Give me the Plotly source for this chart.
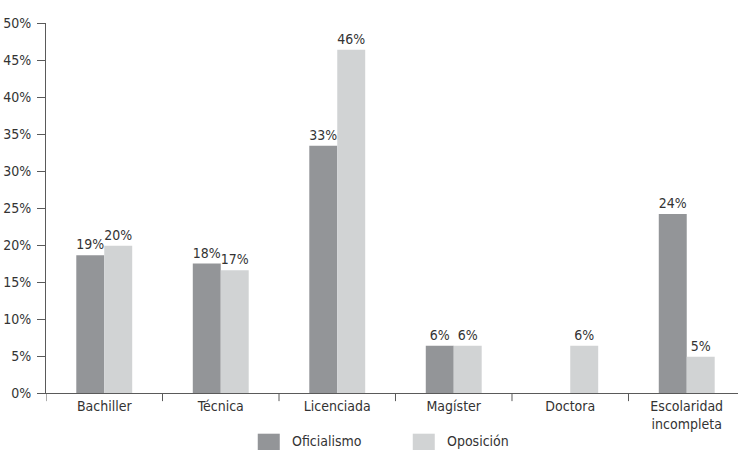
import plotly.graph_objects as go

# Nivel educativo por bloque político (porcentaje)
categorias = ["Bachiller", "Técnica", "Licenciada", "Magíster", "Doctora", "Escolaridad<br>incompleta"]
oficialismo = [18.6, 17.5, 33.4, 6.4, 0, 24.2]
oposicion = [19.9, 16.6, 46.4, 6.4, 6.4, 4.9]

series = ["Oficialismo", "Oposición"]
colores = ["#939598", "#d1d3d4"]

FONT = "DejaVu Sans Condensed, Liberation Sans Narrow, sans-serif"
TEXT = "#333333"
AXIS = "#5a5a5a"


def etiquetas(vals):
    return [f"{round(v)}%" if v > 0 else "" for v in vals]


fig = go.Figure()
for nombre, vals, color in zip(series, [oficialismo, oposicion], colores):
    fig.add_trace(go.Bar(
        x=list(range(len(categorias))),
        y=vals,
        name=nombre,
        marker=dict(color=color, line=dict(width=0)),
        text=etiquetas(vals),
        textposition="outside",
        textfont=dict(family=FONT, size=14, color=TEXT),
        cliponaxis=False,
        showlegend=False,
    ))

fig.update_layout(
    width=738, height=450,
    margin=dict(l=46, r=0, t=23, b=57),
    paper_bgcolor="white", plot_bgcolor="white",
    barmode="group", bargap=0.52, bargroupgap=0,
    font=dict(family=FONT, size=14, color=TEXT),
    xaxis=dict(
        tickmode="array",
        tickvals=list(range(len(categorias))),
        ticktext=categorias,
        range=[-0.5, 5.44],
        showline=True, linecolor=AXIS, linewidth=1,
        ticks="", showgrid=False, zeroline=False,
        tickfont=dict(family=FONT, size=14, color=TEXT),
    ),
    yaxis=dict(
        range=[0, 50], dtick=5,
        ticksuffix="%",
        showline=True, linecolor=AXIS, linewidth=1,
        ticks="outside", ticklen=8, tickcolor=AXIS,
        ticklabelstandoff=3,
        showgrid=False, zeroline=False,
        tickfont=dict(family=FONT, size=14, color=TEXT),
    ),
)

# Marcas del eje x en los límites entre categorías
for i in range(len(categorias)):
    fig.add_shape(type="line", xref="x", yref="paper",
                  x0=i - 0.5, x1=i - 0.5, y0=0, y1=-0.022,
                  line=dict(color=AXIS, width=1))

# Leyenda inferior
leyenda_x = [0.306, 0.53]
for nombre, color, lx in zip(series, colores, leyenda_x):
    fig.add_shape(type="rect", xref="paper", yref="paper",
                  x0=lx, x1=lx + 0.0318, y0=-0.157, y1=-0.11,
                  fillcolor=color, line=dict(width=0))
    fig.add_annotation(xref="paper", yref="paper", x=lx + 0.046, y=-0.131,
                       text=nombre, showarrow=False, xanchor="left", yanchor="middle",
                       font=dict(family=FONT, size=14, color=TEXT))

fig.write_html("out.html")
